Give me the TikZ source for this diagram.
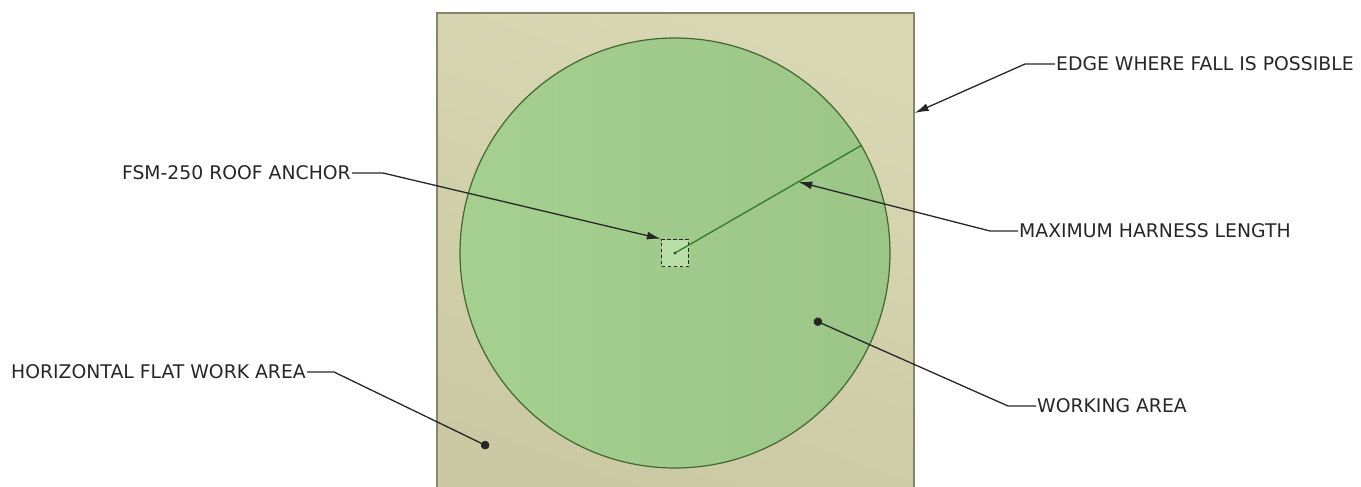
\documentclass[tikz,border=0pt]{standalone}
\usepackage{fontspec}
\setmainfont{DejaVu Sans}
\usepackage{xcolor}
\usepackage{tikz}
\usetikzlibrary{arrows.meta,positioning,calc}
\definecolor{roofhi}{HTML}{DAD8B4}
\definecolor{rooflo}{HTML}{CBC9A3}
\definecolor{roofedge}{HTML}{85856A}
\definecolor{zonehi}{HTML}{A5D08F}
\definecolor{zonelo}{HTML}{9CC588}
\definecolor{zoneedge}{HTML}{42662F}
\definecolor{harness}{HTML}{2F7A2A}
\definecolor{ancfill}{HTML}{B9DEA9}
\definecolor{txtgray}{HTML}{262626}

\begin{document}
\begin{tikzpicture}[x=1pt,y=-1pt,
        roofbox/.style={draw=roofedge,line width=1.3pt,shading=axis,
                        top color=roofhi,bottom color=rooflo,shading angle=-20,
                        minimum width=477pt,minimum height=490pt,inner sep=0pt},
        zonebox/.style={circle,draw=zoneedge,line width=1.2pt,shading=axis,
                        left color=zonehi,right color=zonelo,
                        minimum size=430pt,inner sep=0pt},
        ancbox/.style={draw=black!85,dashed,dash pattern=on 3.5pt off 2.5pt,line width=1.3pt,
                       fill=ancfill,minimum size=27pt,inner sep=0pt},
        lbl/.style={font=\fontsize{18.8}{22}\selectfont,text=txtgray,inner sep=1pt},
        ldr/.style={line width=1.3pt,draw=black!85},
        arr/.style={ldr,-{Latex[length=14pt,width=8pt]}},
        dotted end/.style={ldr,-{Circle[length=8.5pt]}}
    ]
      \clip (0,0) rectangle (1361,487);
      % work surface and safe zone
      \node[roofbox] (roof) at (675.5,258) {};
      \node[zonebox] (zone) at (675,253) {};
      \node[ancbox] (anc) at (675,253) {};
      \fill[black!80] (anc.center) circle (1.6pt);
      \draw[harness,line width=1.3pt] (anc.center) -- (zone.30);
      \coordinate (edgept) at (roof.east |- 0,113);
      \coordinate (harnpt) at ($(anc.center)!0.66!(zone.30)$);
      \coordinate (workpt) at (814,320);
      \coordinate (flatpt) at (489,447);
      % labels
      \node[lbl,anchor=west] (fall) at (1055,64) {EDGE WHERE FALL IS POSSIBLE};
      \node[lbl,anchor=east] (fsm) at (352,173) {FSM-250 ROOF ANCHOR};
      \node[lbl,anchor=west] (hlen) at (1018,231) {MAXIMUM HARNESS LENGTH};
      \node[lbl,anchor=west] (work) at (1036,406) {WORKING AREA};
      \node[lbl,anchor=east] (flat) at (307,372) {HORIZONTAL FLAT WORK AREA};
      % leaders
      \draw[arr] (fall.west) -- ++(-30,0) -- (edgept);
      \draw[arr] (fsm.east) -- ++(31,0) -- (anc.north west);
      \draw[arr] (hlen.west) -- ++(-28,0) -- (harnpt);
      \draw[dotted end] (work.west) -- ++(-28,0) -- (workpt);
      \draw[dotted end] (flat.east) -- ++(27,0) -- (flatpt);
    \end{tikzpicture}
\end{document}
